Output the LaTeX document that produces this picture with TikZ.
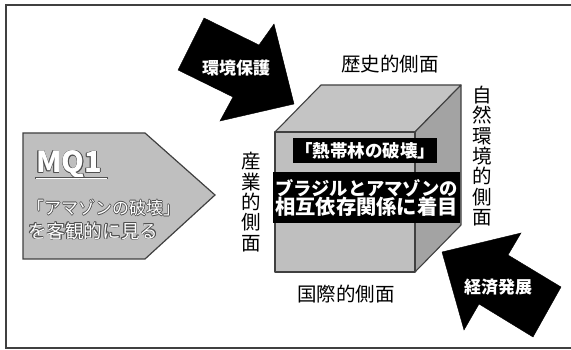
\documentclass[tikz,border=0pt]{standalone}
\usepackage{fontspec}
\setmainfont{Noto Sans CJK JP}
\definecolor{framegray}{HTML}{404040}
\definecolor{boxgray}{HTML}{BFBFBF}
\definecolor{topgray}{HTML}{C4C4C4}
\definecolor{sidegray}{HTML}{A3A3A3}
\definecolor{olgray}{HTML}{505050}
\newcommand\olpart[3]{\makebox[0pt][l]{\hspace*{#1}\raisebox{#2}{\textcolor{olgray}{#3}}}}
\newcommand\oltext[1]{\olpart{-.6pt}{0pt}{#1}\olpart{.6pt}{0pt}{#1}\olpart{0pt}{.6pt}{#1}\olpart{0pt}{-.6pt}{#1}\olpart{-.45pt}{-.45pt}{#1}\olpart{.45pt}{.45pt}{#1}\olpart{-.45pt}{.45pt}{#1}\olpart{.45pt}{-.45pt}{#1}\textcolor{white}{#1}}
\tikzset{
  face/.style={draw=framegray, line width=1.1pt, line join=round},
  blackarrow/.style={fill=black, draw=black, line join=miter},
  arrowtext/.style={text=white, font=\fontsize{17}{20}\selectfont\bfseries, inner sep=0pt},
  sidelabel/.style={font=\fontsize{19.5}{20.3}\selectfont, inner sep=0pt, align=center},
  darkbox/.style={fill=black, text=white, inner sep=0pt, font=\bfseries},
}
\begin{document}
\begin{tikzpicture}[x=1pt,y=-1pt]
\useasboundingbox (0,0) rectangle (571,350);
% frame
\draw[framegray, line width=1.6pt] (6,5) rectangle (580,348);

% MQ1 pentagon
\path[fill=boxgray, draw=framegray, line width=1.2pt, line join=miter]
  (23,133) -- (145,133) -- (215,195) -- (145,259) -- (23,259) -- cycle;
\node[anchor=base west, inner sep=0pt, font=\fontsize{29}{30}\selectfont\bfseries] (mq) at (36,173) {\oltext{MQ1}};
\draw[olgray, line width=2pt] (35,178) -- (108,178);
\draw[white, line width=0.7pt] (35.6,178) -- (107.4,178);
\node[anchor=west, inner sep=0pt, font=\fontsize{17}{18}\selectfont] (mqa) at (27,208) {\oltext{「アマゾンの破壊」}};
\node[anchor=west, inner sep=0pt, font=\fontsize{18.6}{19}\selectfont] (mqb) at (28,231) {\oltext{を客観的に見る}};

% cube
\path[face, fill=topgray] (275,132) -- (321,85) -- (461,85) -- (415,132) -- cycle;
\path[face, fill=sidegray] (415,132) -- (461,85) -- (461,225) -- (415,272) -- cycle;
\path[face, fill=boxgray] (275,132) rectangle (415,272);

% black text boxes
\node[darkbox, minimum width=144pt, minimum height=25pt, font=\fontsize{17.5}{18}\selectfont\bfseries] (theme) at (365,150.5) {「熱帯林の破壊」};
\node[darkbox, minimum width=187pt, minimum height=51pt, align=center] (focus) at (366.5,197.5)
  {{\fontsize{18.3}{24}\selectfont ブラジルとアマゾンの}\\[-1pt]{\fontsize{20.3}{24}\selectfont 相互依存関係に着目}};

% side labels
\node[sidelabel] (hist) at (390,64) {歴史的側面};
\node[sidelabel] (intl) at (346,294) {国際的側面};
\node[sidelabel] (ind) at (251,202) {産\\業\\的\\側\\面};
\node[sidelabel] (nat) at (482,156) {自\\然\\環\\境\\的\\側\\面};

% arrow: environmental protection
\path[blackarrow] (204,18) -- (259,45) -- (274,24) -- (294,104) -- (220,121) -- (233,97) -- (178,70) -- cycle;
\node[arrowtext] (env) at (236,68) {環境保護};

% arrow: economic development
\path[blackarrow] (561,287) -- (508,255) -- (521,233) -- (442,252) -- (464,330) -- (479,304) -- (533,337) -- cycle;
\node[arrowtext] (eco) at (498,287) {経済発展};
\end{tikzpicture}
\end{document}
